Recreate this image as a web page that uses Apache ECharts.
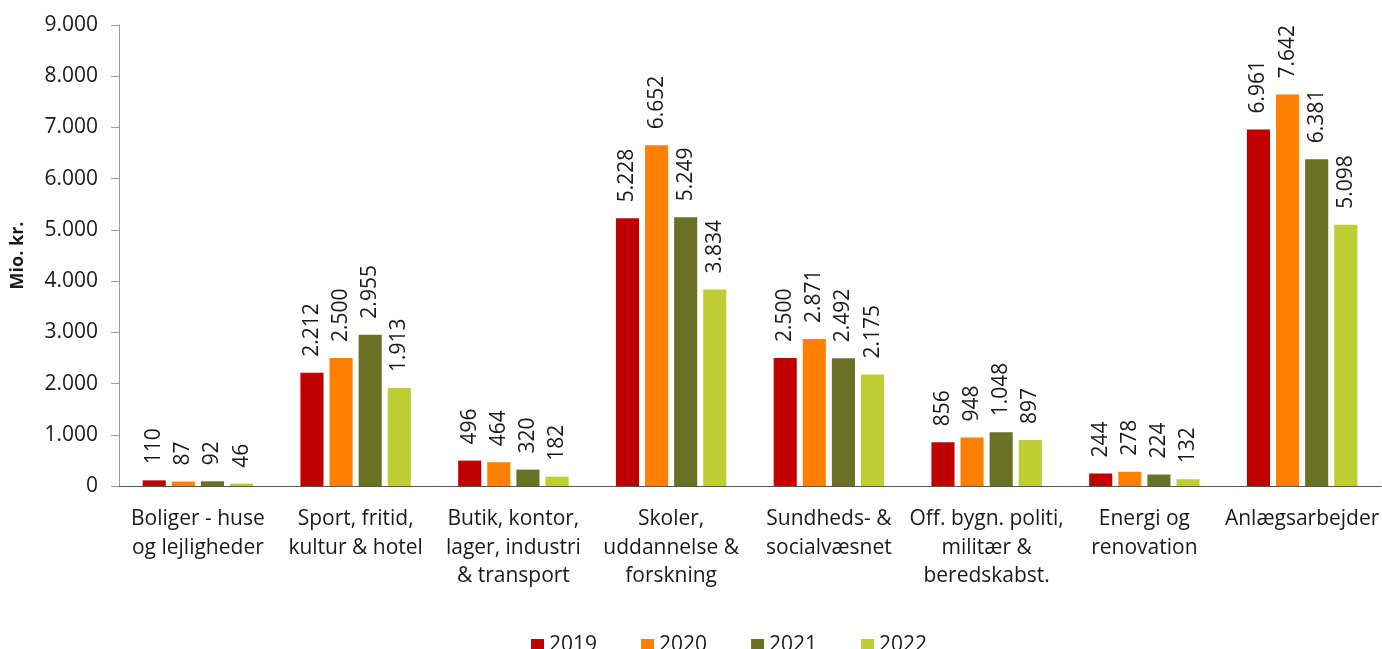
<!DOCTYPE html>
<html>
<head>
<meta charset="utf-8">
<script src="https://cdn.jsdelivr.net/npm/echarts@6/dist/echarts.min.js"></script>
<style>
  html, body { margin: 0; padding: 0; background: #fff; }
  #chart { width: 1382px; height: 649px; }
</style>
</head>
<body>
<div id="chart"></div>
<script>
const categories = [
  'Boliger - huse\nog lejligheder',
  'Sport, fritid,\nkultur & hotel',
  'Butik, kontor,\nlager, industri\n& transport',
  'Skoler,\nuddannelse &\nforskning',
  'Sundheds- &\nsocialvæsnet',
  'Off. bygn. politi,\nmilitær &\nberedskabst.',
  'Energi og\nrenovation',
  'Anlægsarbejder'
];
const years = ['2019', '2020', '2021', '2022'];
const v2019 = [110, 2212, 496, 5228, 2500, 856, 244, 6961];
const v2020 = [87, 2500, 464, 6652, 2871, 948, 278, 7642];
const v2021 = [92, 2955, 320, 5249, 2492, 1048, 224, 6381];
const v2022 = [46, 1913, 182, 3834, 2175, 897, 132, 5098];
const colors = ['#C00000', '#FF8000', '#6B7124', '#BECD32'];

const fmt = v => String(v).replace(/\B(?=(\d{3})+(?!\d))/g, '.');
const font = "'Open Sans', sans-serif";

const chart = echarts.init(document.getElementById('chart'));
const seriesData = [v2019, v2020, v2021, v2022];

chart.setOption({
  animation: false,
  color: colors,
  textStyle: { fontFamily: font },
  grid: { left: 119, right: 1, top: 25, bottom: 163, outerBoundsMode: 'none' },
  legend: {
    top: 630,
    left: 526,
    itemWidth: 13,
    itemHeight: 13,
    itemGap: 44,
    icon: 'rect',
    textStyle: { fontSize: 21, color: '#1a1a1a', fontFamily: font },
    data: years
  },
  xAxis: {
    type: 'category',
    data: categories,
    axisLine: { lineStyle: { color: '#555', width: 1 } },
    axisTick: { show: false },
    axisLabel: {
      interval: 0,
      margin: 19,
      fontSize: 21,
      lineHeight: 28.5,
      color: '#1a1a1a',
      fontFamily: font
    }
  },
  yAxis: {
    type: 'value',
    min: 0,
    max: 9000,
    interval: 1000,
    name: 'Mio. kr.',
    nameLocation: 'middle',
    nameRotate: 90,
    nameGap: 92,
    nameTextStyle: { fontSize: 18, fontWeight: 'bold', color: '#1a1a1a', fontFamily: font },
    axisLine: { show: true, lineStyle: { color: '#999' } },
    axisTick: { show: true, length: 8, lineStyle: { color: '#999' } },
    splitLine: { show: false },
    axisLabel: {
      fontSize: 21,
      margin: 21,
      color: '#1a1a1a',
      fontFamily: font,
      formatter: v => fmt(v)
    }
  },
  series: years.map((y, i) => ({
    name: y,
    type: 'bar',
    data: seriesData[i],
    barGap: '26%',
    barCategoryGap: '30%',
    label: {
      show: true,
      position: 'top',
      rotate: 90,
      align: 'left',
      verticalAlign: 'middle',
      distance: 16,
      fontSize: 21,
      color: '#1a1a1a',
      fontFamily: font,
      formatter: p => fmt(p.value)
    }
  }))
});
</script>
</body>
</html>
